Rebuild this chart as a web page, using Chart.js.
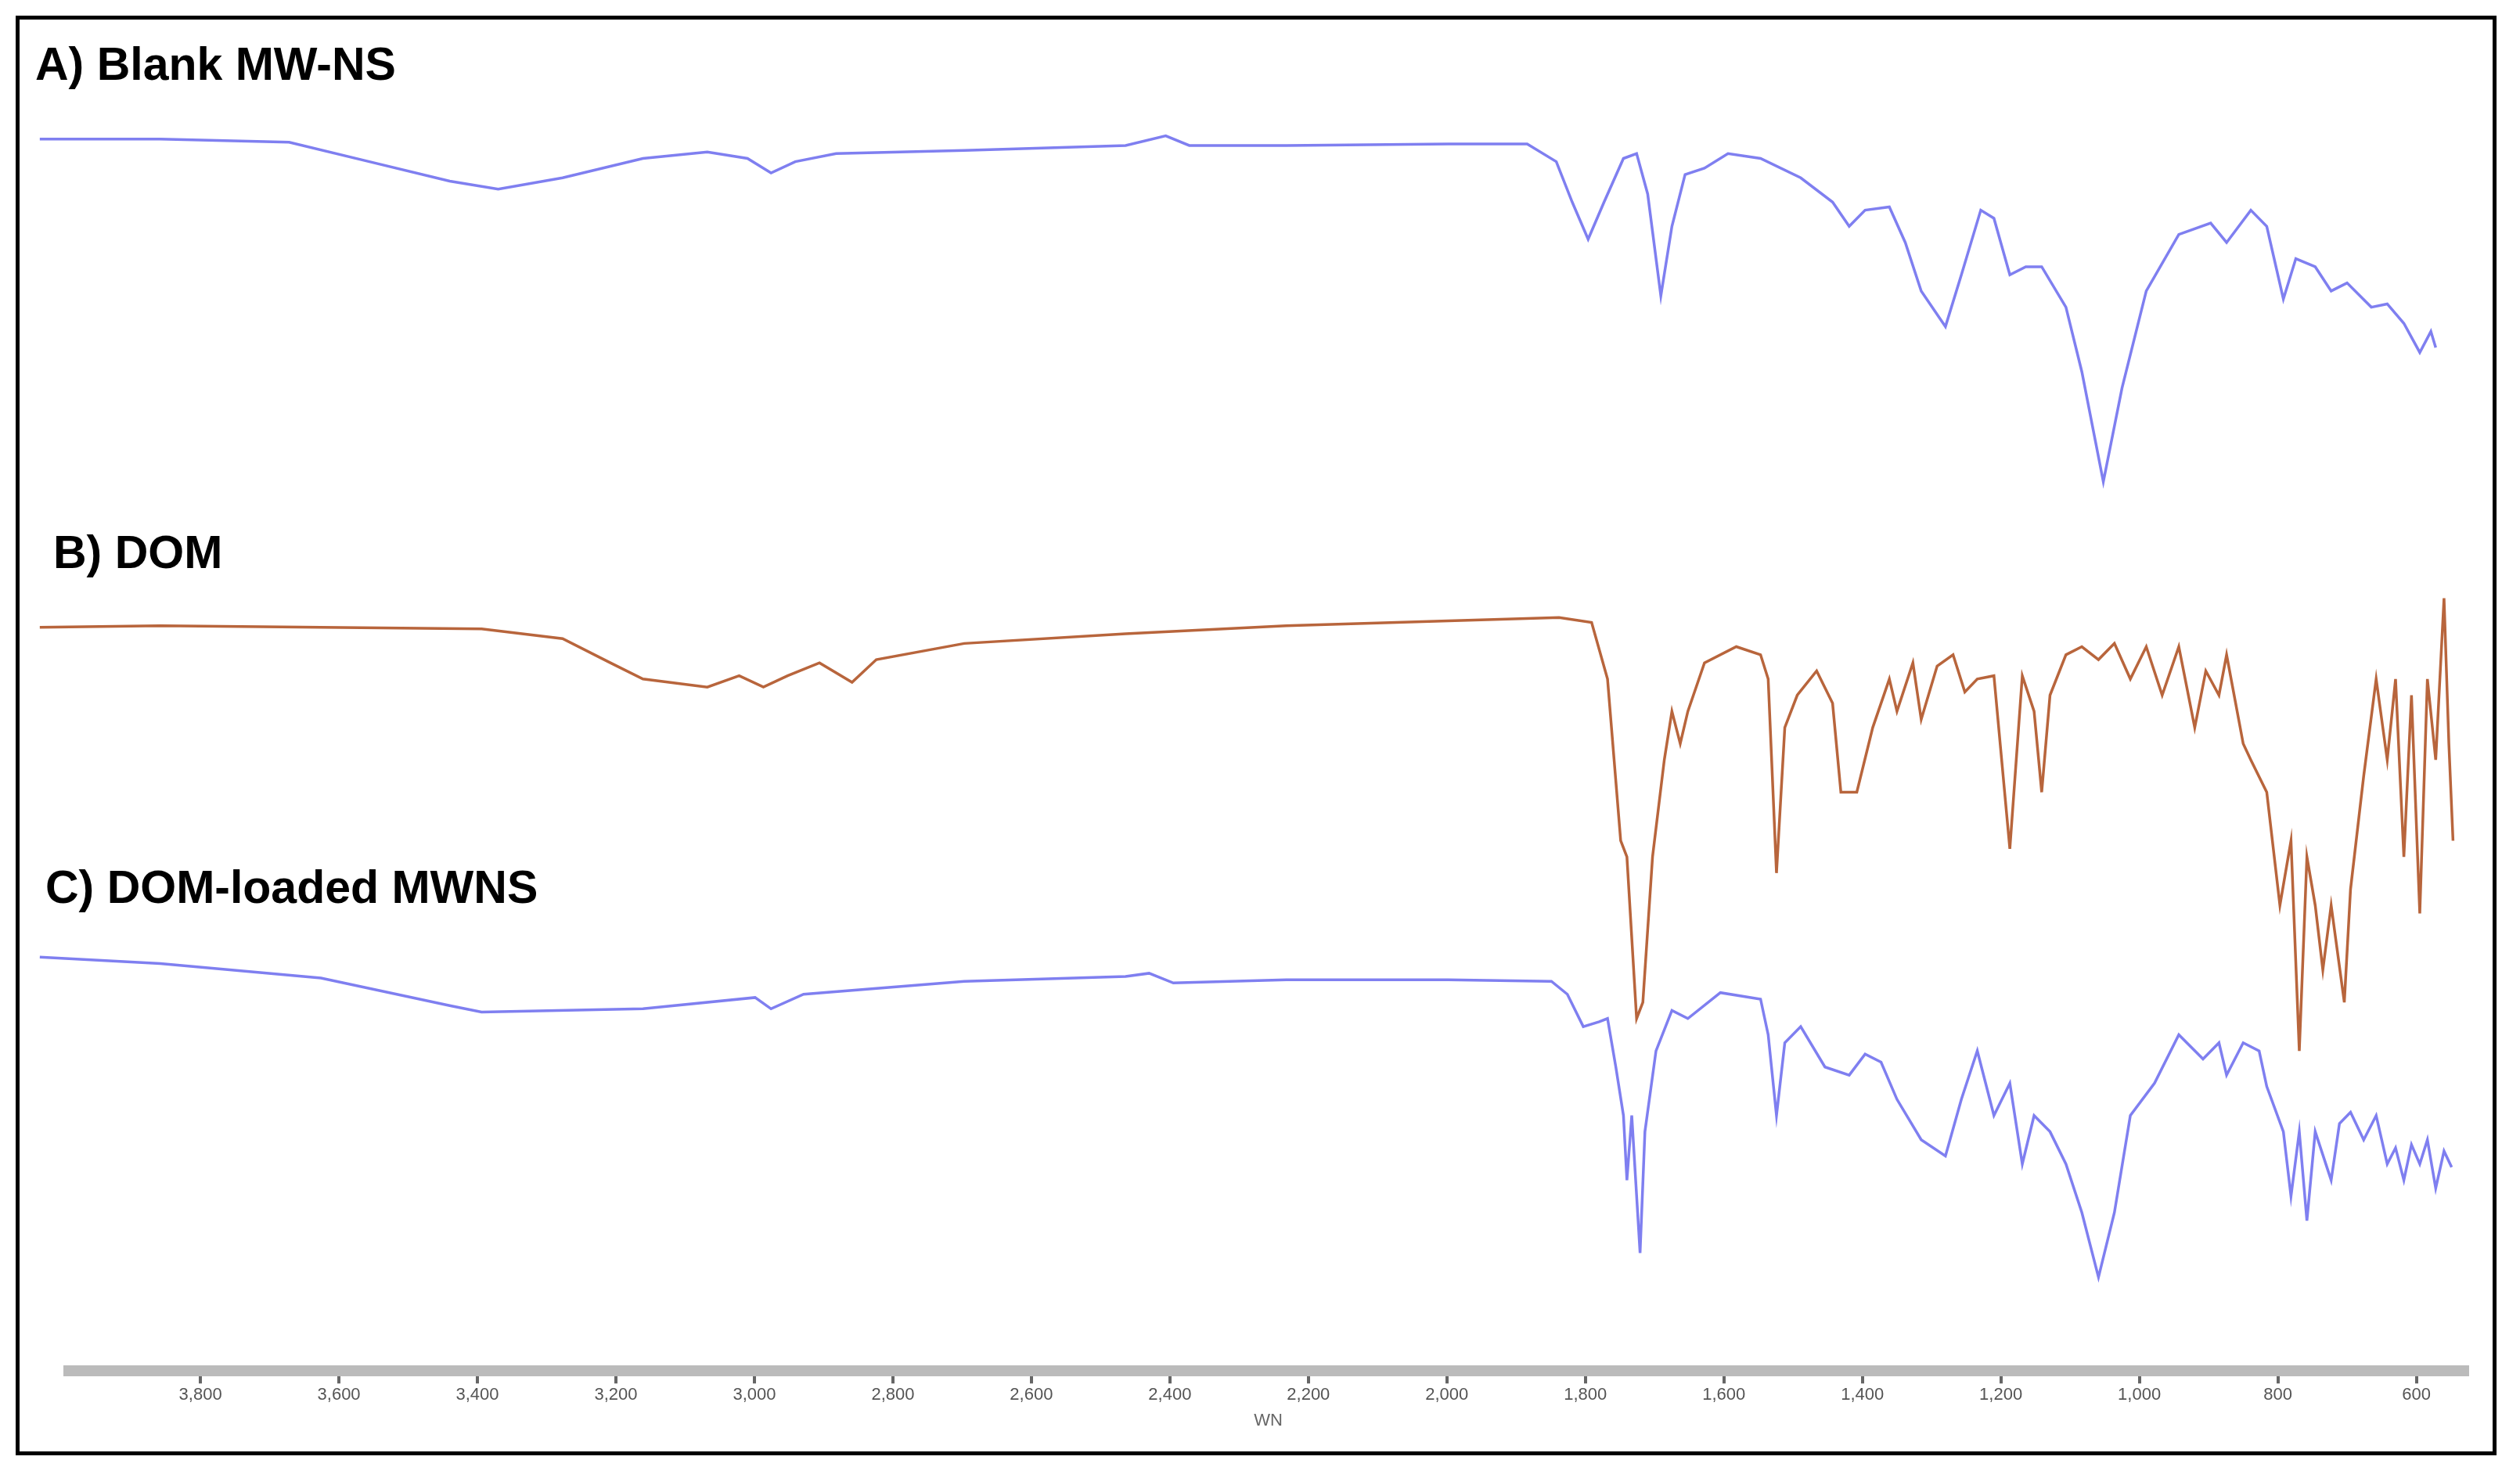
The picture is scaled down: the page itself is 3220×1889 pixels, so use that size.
<!DOCTYPE html>
<html><head><meta charset="utf-8">
<script src="https://cdn.jsdelivr.net/npm/chart.js@4"></script>
<style>
html,body{margin:0;padding:0;background:#fff;}
#wrap{position:relative;width:3220px;height:1889px;}
#frame{position:absolute;left:20px;top:20px;width:3170px;height:1840px;border:5px solid #000;box-sizing:border-box;pointer-events:none;}
.lbl{position:absolute;font:bold 59px "Liberation Sans",Arial,sans-serif;color:#000;white-space:nowrap;}
canvas{position:absolute;left:0;top:0;}
</style></head><body>
<div id="wrap">
<canvas id="c" width="3220" height="1889"></canvas>
<div id="frame"></div>
<div class="lbl" style="left:45px;top:48px">A) Blank MW-NS</div>
<div class="lbl" style="left:68px;top:672px">B) DOM</div>
<div class="lbl" style="left:58px;top:1100px">C) DOM-loaded MWNS</div>
</div>
<script>
// wavenumber (cm-1) and stacked offset intensity (down = absorption)
const wnA=[4032,3858,3672,3556,3440,3370,3277,3161,3068,3010,2976,2941,2882,2697,2464,2406,2372,2232,1998,1884,1842,1819,1796,1773,1745,1726,1710,1691,1675,1656,1628,1594,1547,1489,1443,1419,1396,1361,1338,1315,1280,1257,1229,1210,1187,1164,1141,1106,1083,1052,1025,990,943,897,874,839,816,792,774,746,723,700,665,642,618,595,579,572];
const yA=[86,86,88,100,112,117,110,98,94,98,107,100,95,93,90,84,90,90,89,89,100,125,148,125,98,95,120,183,140,108,104,95,98,110,125,140,130,128,150,180,202,170,130,135,170,165,165,190,230,298,240,180,145,138,150,130,140,185,160,165,180,175,190,188,200,218,205,215];
const wnB=[4032,3858,3626,3394,3277,3208,3161,3068,3022,2987,2952,2906,2859,2824,2697,2464,2232,1998,1838,1791,1768,1749,1740,1726,1717,1703,1686,1675,1663,1652,1628,1582,1547,1536,1524,1512,1494,1466,1443,1431,1408,1385,1361,1350,1327,1315,1292,1269,1252,1234,1210,1187,1169,1152,1141,1129,1106,1083,1059,1036,1013,990,967,943,920,904,885,874,850,839,816,797,781,769,758,746,735,723,704,695,676,658,642,630,618,607,595,584,572,560,553,547];
const yB=[388,387,388,389,395,410,420,425,418,425,418,410,422,408,398,392,387,384,382,385,420,520,530,630,620,530,470,440,460,440,410,400,405,420,540,450,430,415,435,490,490,450,420,440,410,445,412,405,428,420,418,525,418,440,490,430,405,400,408,398,420,400,430,400,450,415,430,405,460,470,490,560,520,650,530,560,600,560,620,550,480,420,470,420,530,430,565,420,470,370,460,520];
const wnC=[4032,3858,3626,3440,3394,3161,2999,2976,2929,2697,2464,2430,2395,2232,1998,1849,1826,1803,1780,1768,1756,1745,1740,1733,1721,1714,1698,1675,1652,1605,1547,1536,1524,1512,1489,1454,1419,1396,1373,1350,1315,1280,1257,1234,1210,1187,1169,1152,1129,1106,1083,1059,1036,1013,978,943,908,885,874,850,827,816,792,781,769,758,746,723,711,695,676,658,642,630,618,607,595,584,572,560,549];
const yC=[592,596,605,622,626,624,617,624,615,607,604,602,608,606,606,607,615,635,632,630,660,690,730,690,775,700,650,625,630,614,618,640,690,645,635,660,665,652,657,680,705,715,680,650,690,670,720,690,700,720,750,790,750,690,670,640,655,645,665,645,650,672,700,740,700,755,700,730,695,688,705,690,720,710,730,708,720,705,735,712,722];
const xTicks=[3800,3600,3400,3200,3000,2800,2600,2400,2200,2000,1800,1600,1400,1200,1000,800,600];
const xTitle='WN';

const pts=(w,y)=>w.map((v,i)=>({x:v,y:y[i]}));
const ds=(w,y,c)=>({data:pts(w,y),borderColor:c,borderWidth:3.5,pointRadius:0,tension:0,fill:false,clip:false});
new Chart(document.getElementById('c'),{
 type:'line',
 data:{datasets:[ds(wnA,yA,'#7f7ff0'),ds(wnB,yB,'#b8653c'),ds(wnC,yC,'#7f7ff0')]},
 options:{
  responsive:false,animation:false,devicePixelRatio:1,
  layout:{padding:{left:88,right:67,top:0,bottom:52}},
  plugins:{legend:{display:false},tooltip:{enabled:false}},
  scales:{
   x:{type:'linear',reverse:true,min:526,max:3990,
     afterBuildTicks:s=>{s.ticks=xTicks.map(v=>({value:v}));},
     ticks:{maxRotation:0,autoSkip:false,padding:2,color:'#555',font:{family:'Liberation Sans',size:22},callback:v=>v.toLocaleString('en-US')},
     grid:{drawOnChartArea:false,tickLength:16,color:'#666',lineWidth:4},
     border:{color:'#bbb',width:14},
     title:{display:true,text:xTitle,color:'#666',font:{family:'Liberation Sans',size:22},padding:{top:4,bottom:8}}},
   y:{display:false,reverse:true,min:0,max:848}
  }
 }
});
</script></body></html>
